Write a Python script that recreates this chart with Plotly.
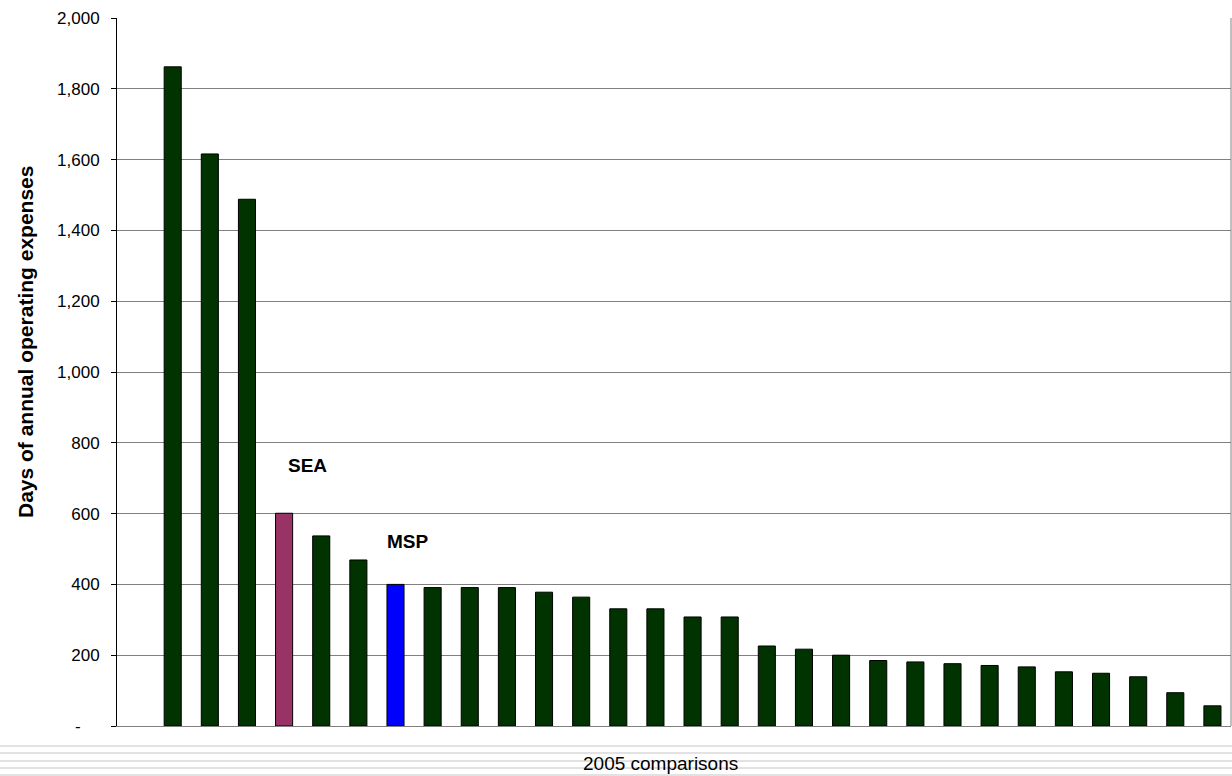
import plotly.graph_objects as go

# ---- data ----
categories = [""] + [f"Peer {i}" for i in range(1, 4)] + ["SEA", "Peer 4", "Peer 5", "MSP"] + [f"Peer {i}" for i in range(6, 28)]
values = [None, 1862, 1616, 1488, 601, 537, 469, 400, 391, 391, 391, 378, 364, 331, 331,
          308, 308, 226, 217, 200, 185, 181, 176, 171, 167, 153, 149, 139, 94, 57]
highlight_colors = {"SEA": "#993366", "MSP": "#0000FF"}
base_color = "#003300"
tick_vals = [0, 200, 400, 600, 800, 1000, 1200, 1400, 1600, 1800, 2000]
tick_text = ["-\u00a0\u00a0\u00a0\u00a0", "200", "400", "600", "800", "1,000", "1,200", "1,400", "1,600", "1,800", "2,000"]
y_title = "Days of annual operating expenses"
x_title = "2005 comparisons"
labels = [("SEA", 736), ("MSP", 521)]
label_xshift = {"SEA": 23, "MSP": 12}

colors = [highlight_colors.get(c, base_color) for c in categories]

W, H = 1232, 776
L, R, T, B = 117, 1, 18, 50
pw, ph = W - L - R, H - T - B

fig = go.Figure(go.Bar(
    x=categories, y=values,
    marker=dict(color=colors, line=dict(color="black", width=1)),
    hoverinfo="x+y",
))

FONT = "Arial, Liberation Sans, sans-serif"

def px_x(p):
    return (p - L) / pw

def px_y(p):
    return (H - B - p) / ph

shapes = []
# right border of plot area
shapes.append(dict(type="line", xref="paper", yref="paper", x0=1, x1=1, y0=0, y1=1,
                   line=dict(color="#808080", width=1)))
# decorative stripes below plot
for yp in [746, 753, 761, 768, 775]:
    shapes.append(dict(type="line", xref="paper", yref="paper",
                       x0=px_x(0), x1=px_x(W), y0=px_y(yp), y1=px_y(yp),
                       line=dict(color="#e2e2e2", width=2), layer="below"))

annotations = []
annotations.append(dict(text=f"<b>{y_title}</b>", xref="paper", yref="paper",
                        x=px_x(25), y=px_y(342), textangle=-90, showarrow=False,
                        font=dict(family=FONT, size=21, color="black"),
                        xanchor="center", yanchor="middle"))
annotations.append(dict(text=x_title, xref="paper", yref="paper",
                        x=px_x(660), y=px_y(763), showarrow=False,
                        font=dict(family=FONT, size=19, color="black"),
                        xanchor="center", yanchor="middle"))
for name, yv in labels:
    annotations.append(dict(text=f"<b>{name}</b>", x=name, y=yv, xref="x", yref="y",
                            showarrow=False, xshift=label_xshift[name],
                            font=dict(family=FONT, size=19, color="black"),
                            xanchor="center", yanchor="middle"))

fig.update_layout(
    width=W, height=H,
    margin=dict(l=L, r=R, t=T, b=B),
    paper_bgcolor="white", plot_bgcolor="white",
    showlegend=False,
    bargap=0.54,
    font=dict(family=FONT, size=17, color="black"),
    shapes=shapes,
    annotations=annotations,
    xaxis=dict(type="category", categoryorder="array", categoryarray=categories,
               showticklabels=False, ticks="", showgrid=False,
               showline=True, linecolor="#808080", linewidth=1, zeroline=False,
               fixedrange=True),
    yaxis=dict(range=[0, 2000], tickvals=tick_vals, ticktext=tick_text,
               showgrid=True, gridcolor="#808080", gridwidth=1,
               showline=True, linecolor="black", linewidth=1,
               ticks="outside", ticklen=5, tickcolor="black",
               tickfont=dict(family=FONT, size=17, color="black"),
               ticklabelstandoff=8, zeroline=False, fixedrange=True),
)

fig.write_html("out.html")
